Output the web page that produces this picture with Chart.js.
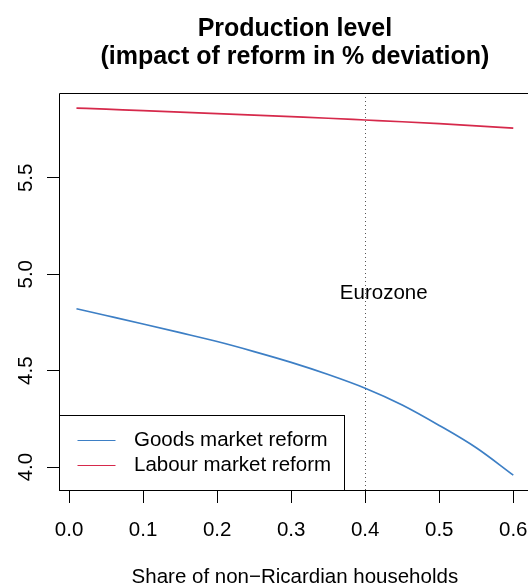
<!DOCTYPE html>
<html>
<head>
<meta charset="utf-8">
<script src="https://cdn.jsdelivr.net/npm/chart.js"></script>
<style>
    html, body { margin: 0; padding: 0; background: #ffffff; overflow: hidden; }
    canvas { display: block; }
</style>
</head>
<body>
<canvas id="productionChart" width="528" height="587"></canvas>
<script>
// Data
const shareX = [0.01, 0.05, 0.10, 0.15, 0.20, 0.25, 0.30, 0.35, 0.40, 0.45, 0.50, 0.55, 0.60];
const goodsReform = [4.821, 4.786, 4.742, 4.697, 4.651, 4.599, 4.543, 4.480, 4.409, 4.322, 4.216, 4.100, 3.958];
const labourReform = [5.862, 5.856, 5.849, 5.841, 5.833, 5.825, 5.817, 5.809, 5.800, 5.791, 5.781, 5.770, 5.758];
const seriesNames = ['Goods market reform', 'Labour market reform'];
const xTicks = [0.0, 0.1, 0.2, 0.3, 0.4, 0.5, 0.6];
const yTicks = [4.0, 4.5, 5.0, 5.5];
const eurozoneShare = 0.4;
const titleLines = ['Production level', '(impact of reform in % deviation)'];
const xTitle = 'Share of non\u2212Ricardian households';

const colors = {
    goods: '#3d7fc5',
    labour: '#d6294b',
    text: '#000000'
};
const FONT = '"Liberation Sans", Arial, Helvetica, sans-serif';

function toPoints(xs, ys) {
    return xs.map((x, i) => ({ x: x, y: ys[i] }));
}

// Text, frame, legend and reference line drawn in R style
const rStylePlugin = {
    id: 'rStyle',
    beforeDatasetsDraw(chart) {
        const { ctx, chartArea, scales } = chart;
        const px = Math.round(scales.x.getPixelForValue(eurozoneShare)) + 0.5;
        ctx.save();
        ctx.strokeStyle = '#555555';
        ctx.lineWidth = 1;
        ctx.setLineDash([1, 3]);
        ctx.beginPath();
        ctx.moveTo(px, chartArea.top);
        ctx.lineTo(px, chartArea.bottom);
        ctx.stroke();
        ctx.restore();
    },
    afterDraw(chart) {
        const { ctx, chartArea, scales } = chart;
        const xs = scales.x, ys = scales.y;
        ctx.save();

        // frame (right side falls off the canvas)
        ctx.strokeStyle = '#000';
        ctx.lineWidth = 1;
        ctx.beginPath();
        ctx.moveTo(chart.width + 2, chartArea.top + 0.5);
        ctx.lineTo(chartArea.left + 0.5, chartArea.top + 0.5);
        ctx.lineTo(chartArea.left + 0.5, chartArea.bottom + 0.5);
        ctx.lineTo(chart.width + 2, chartArea.bottom + 0.5);
        ctx.stroke();

        // title, centred on the full plot region
        ctx.fillStyle = colors.text;
        ctx.textAlign = 'center';
        ctx.textBaseline = 'alphabetic';
        ctx.font = 'bold 25px ' + FONT;
        const cx = (xs.getPixelForValue(xs.min) + xs.getPixelForValue(0.6236)) / 2;
        ctx.fillText(titleLines[0], cx, 36);
        ctx.fillText(titleLines[1], cx, 64);

        // x tick labels + axis title
        ctx.font = '20.5px ' + FONT;
        xTicks.forEach(v => {
            ctx.fillText(v.toFixed(1), xs.getPixelForValue(v), 536);
        });
        ctx.fillText(xTitle, cx, 583);

        // y tick labels, rotated
        yTicks.forEach(v => {
            ctx.save();
            ctx.translate(31.5, ys.getPixelForValue(v));
            ctx.rotate(-Math.PI / 2);
            ctx.fillText(v.toFixed(1), 0, 0);
            ctx.restore();
        });

        // annotation
        ctx.textBaseline = 'middle';
        ctx.fillText('Eurozone', xs.getPixelForValue(0.425), ys.getPixelForValue(4.9));

        // legend
        const lx0 = chartArea.left + 0.5, lx1 = 344.5, ly0 = 415.5, ly1 = chartArea.bottom + 0.5;
        ctx.fillStyle = '#ffffff';
        ctx.fillRect(lx0, ly0, lx1 - lx0, ly1 - ly0);
        ctx.strokeStyle = '#000';
        ctx.strokeRect(lx0, ly0, lx1 - lx0, ly1 - ly0);
        const legendRows = [
            { name: seriesNames[0], color: colors.goods, y: 440.5 },
            { name: seriesNames[1], color: colors.labour, y: 465.5 }
        ];
        ctx.textAlign = 'left';
        legendRows.forEach(row => {
            ctx.strokeStyle = row.color;
            ctx.lineWidth = 1;
            ctx.beginPath();
            ctx.moveTo(77.5, row.y);
            ctx.lineTo(115.5, row.y);
            ctx.stroke();
            ctx.fillStyle = colors.text;
            ctx.fillText(row.name, 134, row.y);
        });
        ctx.restore();
    }
};

new Chart(document.getElementById('productionChart'), {
    type: 'line',
    data: {
        datasets: [{
            label: seriesNames[0],
            data: toPoints(shareX, goodsReform),
            borderColor: colors.goods,
            borderWidth: 1.7,
            pointRadius: 0,
            cubicInterpolationMode: 'monotone',
            fill: false
        }, {
            label: seriesNames[1],
            data: toPoints(shareX, labourReform),
            borderColor: colors.labour,
            borderWidth: 1.7,
            pointRadius: 0,
            cubicInterpolationMode: 'monotone',
            fill: false
        }]
    },
    options: {
        responsive: false,
        animation: false,
        devicePixelRatio: 1,
        layout: {
            padding: { left: 47, top: 93, right: 0, bottom: 84 }
        },
        plugins: {
            legend: { display: false },
            title: { display: false },
            tooltip: { enabled: false }
        },
        scales: {
            x: {
                type: 'linear',
                min: -0.0136,
                max: 0.6199,
                afterBuildTicks: scale => { scale.ticks = xTicks.map(v => ({ value: v })); },
                ticks: { display: false, autoSkip: false },
                border: { display: false },
                grid: { drawOnChartArea: false, tickLength: 13, color: '#000', tickColor: '#000', lineWidth: 1 }
            },
            y: {
                type: 'linear',
                min: 3.881,
                max: 5.940,
                afterBuildTicks: scale => { scale.ticks = yTicks.map(v => ({ value: v })); },
                ticks: { display: false, autoSkip: false },
                border: { display: false },
                grid: { drawOnChartArea: false, tickLength: 12, color: '#000', tickColor: '#000', lineWidth: 1 }
            }
        }
    },
    plugins: [rStylePlugin]
});
</script>
</body>
</html>
